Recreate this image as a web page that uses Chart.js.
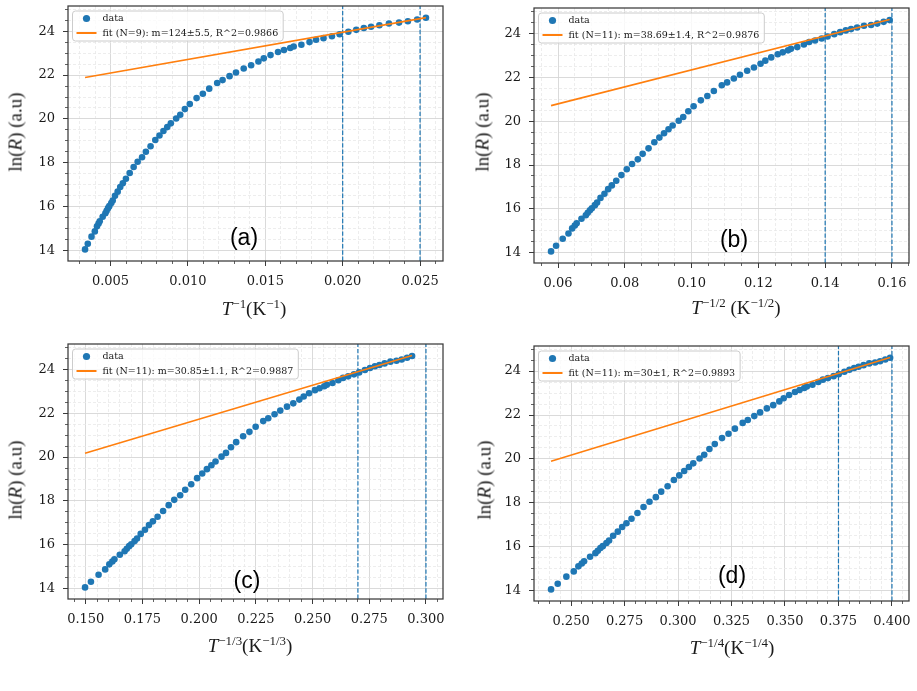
<!DOCTYPE html>
<html>
<head>
<meta charset="utf-8">
<script src="https://cdn.jsdelivr.net/npm/chart.js@4.4.1/dist/chart.umd.min.js"></script>
<style>
  html, body { margin: 0; padding: 0; background: #fff; }
  #page { position: relative; width: 917px; height: 691px; overflow: hidden; }
  canvas { position: absolute; }
  .lbl { position: absolute; transform: translate(-50%, -50%); white-space: nowrap;
         font-family: "Liberation Serif", serif; font-size: 19px; color: #1a1a1a; line-height: 1; }
  .ylbl { transform: translate(-50%, -50%) rotate(-90deg); }
  .lbl sup { font-size: 0.68em; vertical-align: 0.5em; line-height: 0; }
  .tag { position: absolute; transform: translate(-50%, -50%); font-family: "Liberation Sans", sans-serif;
         font-size: 23px; color: #000; line-height: 1; }
</style>
</head>
<body>
<div id="page"></div>
<script>
const temperatureK = [298.2, 283.2, 265.2, 250.9, 242.4, 236.5, 232.5, 222.6, 214.2, 210.6,
  206.7, 203.3, 198.1, 194.5, 189.1, 183.1, 177.7, 172.6, 166.8, 160.3,
  154.0, 148.1, 142.1, 137.3, 131.8, 126.7, 122.5, 118.8, 115.4, 112.4,
  108.2, 105.2, 102.0, 98.8, 94.7, 91.2, 87.9, 84.1, 81.7, 78.8,
  76.3, 73.5, 71.0, 68.7, 67.1, 65.2, 63.2, 61.7, 60.2, 59.4,
  57.7, 56.0, 54.7, 53.3, 51.8, 50.5, 49.1, 47.9, 46.8, 45.8,
  44.7, 43.5, 42.3, 41.3, 40.3, 39.4]
const lnR = [14.06, 14.32, 14.64, 14.88, 15.11, 15.24, 15.34, 15.55, 15.71, 15.82,
  15.94, 16.03, 16.17, 16.29, 16.50, 16.69, 16.90, 17.07, 17.28, 17.54,
  17.81, 18.05, 18.26, 18.51, 18.76, 19.04, 19.25, 19.45, 19.63, 19.80,
  20.02, 20.19, 20.45, 20.68, 20.95, 21.15, 21.38, 21.64, 21.77, 21.95,
  22.12, 22.30, 22.45, 22.62, 22.76, 22.91, 23.05, 23.14, 23.23, 23.30,
  23.38, 23.50, 23.61, 23.68, 23.77, 23.86, 23.97, 24.06, 24.14, 24.20,
  24.27, 24.35, 24.39, 24.45, 24.53, 24.61]

const powers = [1, 1 / 2, 1 / 3, 1 / 4]
const powerText = ["1", "1/2", "1/3", "1/4"]
const panelTags = ["(a)", "(b)", "(c)", "(d)"]
const fitLabels = [
  "fit (N=9): m=124±5.5, R^2=0.9866",
  "fit (N=11): m=38.69±1.4, R^2=0.9876",
  "fit (N=11): m=30.85±1.1, R^2=0.9887",
  "fit (N=11): m=30±1, R^2=0.9893",
]
const fitSlopes = [124, 38.69, 30.85, 29.8]
const fitIntercepts = [21.47, 18.47, 15.56, 12.72]
const cutoffs = [[0.020, 0.025], [0.14, 0.16], [0.27, 0.30], [0.375, 0.400]]
const xTickLabels = [
  ["0.005", "0.010", "0.015", "0.020", "0.025"],
  ["0.06", "0.08", "0.10", "0.12", "0.14", "0.16"],
  ["0.150", "0.175", "0.200", "0.225", "0.250", "0.275", "0.300"],
  ["0.250", "0.275", "0.300", "0.325", "0.350", "0.375", "0.400"],
]
const xMinorStep = [0.001, 0.005, 0.005, 0.005]
const yTickLabels = ["14", "16", "18", "20", "22", "24"]
const yMinorStep = 0.5

// page placement
const canvasPos = [[8, 0], [474, 2], [8, 338], [474, 340]]
const xTitlePos = [[254, 308], [736, 307], [250, 645], [732, 647]]
const yTitlePos = [[15, 132], [482, 132], [15, 480], [484, 480]]
const tagPos = [[244, 237], [734, 239], [247, 580], [732, 575]]

const BLUE = "#1f77b4"
const ORANGE = "#ff7f0e"
const tickFont = { family: '"DejaVu Serif", serif', size: 13 }

const page = document.getElementById("page")

const minorTicks = (min, max, step, majors) => {
	const out = []
	for (let i = Math.ceil(min / step); i <= Math.floor(max / step); i++) {
		const v = i * step
		if (!majors.some((m) => Math.abs(m - v) < step / 10)) out.push(v)
	}
	return out
}

// matplotlib-like autoscale, 5% margins
const padRange = (lo, hi) => {
	const m = (hi - lo) * 0.05
	return [lo - m, hi + m]
}

const frame = {
	id: "frame",
	afterDraw(chart) {
		const { ctx, chartArea: a } = chart
		ctx.save()
		ctx.strokeStyle = "#3a3a3a"
		ctx.lineWidth = 1.25
		ctx.strokeRect(a.left, a.top, a.right - a.left, a.bottom - a.top)
		ctx.restore()
	},
}

const legendBox = {
	id: "legendBox",
	afterDatasetsDraw(chart) {
		const { ctx, chartArea: a } = chart
		const items = chart.data.datasets.filter((d) => d.legendKind)
		ctx.save()
		ctx.font = '9.5px "DejaVu Serif"'
		const w = Math.max(...items.map((d) => ctx.measureText(d.label).width))
		const x0 = a.left + 4.5
		const y0 = a.top + 5
		const bw = 30 + w + 5
		const bh = 30
		ctx.beginPath()
		ctx.roundRect(x0, y0, bw, bh, 3)
		ctx.fillStyle = "rgba(255,255,255,0.8)"
		ctx.fill()
		ctx.strokeStyle = "#cccccc"
		ctx.lineWidth = 1
		ctx.stroke()
		items.forEach((d, i) => {
			const cy = y0 + 7.5 + i * 14.5
			if (d.legendKind === "point") {
				ctx.beginPath()
				ctx.arc(x0 + 14, cy, 3.6, 0, Math.PI * 2)
				ctx.fillStyle = d.backgroundColor
				ctx.fill()
			} else {
				ctx.beginPath()
				ctx.moveTo(x0 + 4, cy)
				ctx.lineTo(x0 + 24, cy)
				ctx.strokeStyle = d.borderColor
				ctx.lineWidth = 2
				ctx.stroke()
			}
			ctx.fillStyle = "#1a1a1a"
			ctx.textBaseline = "middle"
			ctx.fillText(d.label, x0 + 30, cy + 0.5)
		})
		ctx.restore()
	},
}

const addText = (cls, html, pos) => {
	const el = document.createElement("div")
	el.className = cls
	el.innerHTML = html
	el.style.left = pos[0] + "px"
	el.style.top = pos[1] + "px"
	page.appendChild(el)
}

powers.forEach((p, k) => {
	const xs = temperatureK.map((t) => Math.pow(t, -p))
	const points = xs.map((x, i) => ({ x, y: lnR[i] }))
	const xLo = Math.min(...xs)
	const xHi = Math.max(...xs)
	const [xMin, xMax] = padRange(Math.min(xLo, ...cutoffs[k]), Math.max(xHi, ...cutoffs[k]))
	const fitY = (x) => fitSlopes[k] * x + fitIntercepts[k]
	const [yMin, yMax] = padRange(Math.min(...lnR, fitY(xLo)), Math.max(...lnR, fitY(xHi)))

	const xMajors = xTickLabels[k].map(Number)
	const yMajors = yTickLabels.map(Number)
	const xMinors = minorTicks(xMin, xMax, xMinorStep[k], xMajors)
	const yMinors = minorTicks(yMin, yMax, yMinorStep, yMajors)

	const canvas = document.createElement("canvas")
	canvas.width = 447
	canvas.height = 306
	canvas.style.left = canvasPos[k][0] + "px"
	canvas.style.top = canvasPos[k][1] + "px"
	page.appendChild(canvas)

	const vline = (c) => ({
		type: "line",
		data: [{ x: c, y: yMin }, { x: c, y: yMax }],
		borderColor: BLUE,
		borderWidth: 1.2,
		borderDash: [4.4, 1.9],
		pointRadius: 0,
		order: 1,
	})

	new Chart(canvas.getContext("2d"), {
		type: "scatter",
		data: {
			datasets: [
				{
					label: "data",
					legendKind: "point",
					data: points,
					backgroundColor: BLUE,
					borderWidth: 0,
					pointRadius: 3.3,
					order: 3,
				},
				{
					label: fitLabels[k],
					legendKind: "line",
					type: "line",
					data: [{ x: xLo, y: fitY(xLo) }, { x: xHi, y: fitY(xHi) }],
					borderColor: ORANGE,
					borderWidth: 1.6,
					pointRadius: 0,
					order: 1,
				},
				vline(cutoffs[k][0]),
				vline(cutoffs[k][1]),
			],
		},
		options: {
			responsive: false,
			animation: false,
			events: [],
			layout: { padding: { left: 0, top: 6, right: 12, bottom: 0 } },
			plugins: { legend: { display: false }, tooltip: { enabled: false } },
			scales: {
				x: {
					type: "linear",
					position: "bottom",
					weight: 1,
					min: xMin,
					max: xMax,
					afterBuildTicks: (s) => { s.ticks = xMajors.map((v) => ({ value: v })) },
					afterFit: (s) => { s.height = 45; s.paddingLeft = 0; s.paddingRight = 0 },
					ticks: {
						callback: (v, i) => xTickLabels[k][i],
						font: tickFont,
						color: "#1a1a1a",
						padding: 8,
						maxRotation: 0,
						autoSkip: false,
					},
					grid: { color: "#d6d6d6", lineWidth: 0.9, tickLength: 5, tickColor: "#3a3a3a", tickWidth: 1 },
					border: { display: false },
				},
				xm: {
					type: "linear",
					position: "bottom",
					weight: 0,
					min: xMin,
					max: xMax,
					afterBuildTicks: (s) => { s.ticks = xMinors.map((v) => ({ value: v })) },
					afterFit: (s) => { s.height = 0; s.paddingLeft = 0; s.paddingRight = 0 },
					ticks: { display: false },
					grid: { color: "#e9e9e9", lineWidth: 0.8, tickLength: 3, tickColor: "#3a3a3a", tickWidth: 0.8 },
					border: { display: false, dash: [3, 2] },
				},
				y: {
					type: "linear",
					position: "left",
					weight: 1,
					min: yMin,
					max: yMax,
					afterBuildTicks: (s) => { s.ticks = yMajors.map((v) => ({ value: v })) },
					afterFit: (s) => { s.width = 60; s.paddingTop = 0; s.paddingBottom = 0 },
					ticks: {
						callback: (v, i) => yTickLabels[i],
						font: tickFont,
						color: "#1a1a1a",
						padding: 8,
						autoSkip: false,
					},
					grid: { color: "#d6d6d6", lineWidth: 0.9, tickLength: 5, tickColor: "#3a3a3a", tickWidth: 1 },
					border: { display: false },
				},
				ym: {
					type: "linear",
					position: "left",
					weight: 0,
					min: yMin,
					max: yMax,
					afterBuildTicks: (s) => { s.ticks = yMinors.map((v) => ({ value: v })) },
					afterFit: (s) => { s.width = 0; s.paddingTop = 0; s.paddingBottom = 0 },
					ticks: { display: false },
					grid: { color: "#e9e9e9", lineWidth: 0.8, tickLength: 3, tickColor: "#3a3a3a", tickWidth: 0.8 },
					border: { display: false, dash: [3, 2] },
				},
			},
		},
		plugins: [frame, legendBox],
	})

	const pw = powerText[k]
	const gap = k === 1 ? " " : ""
	addText("lbl", `<i>T</i><sup>−${pw}</sup>${gap}(K<sup>−${pw}</sup>)`, xTitlePos[k])
	addText("lbl ylbl", "ln(<i>R</i>) (a.u)", yTitlePos[k])
	addText("tag", panelTags[k], tagPos[k])
})
</script>
</body>
</html>
